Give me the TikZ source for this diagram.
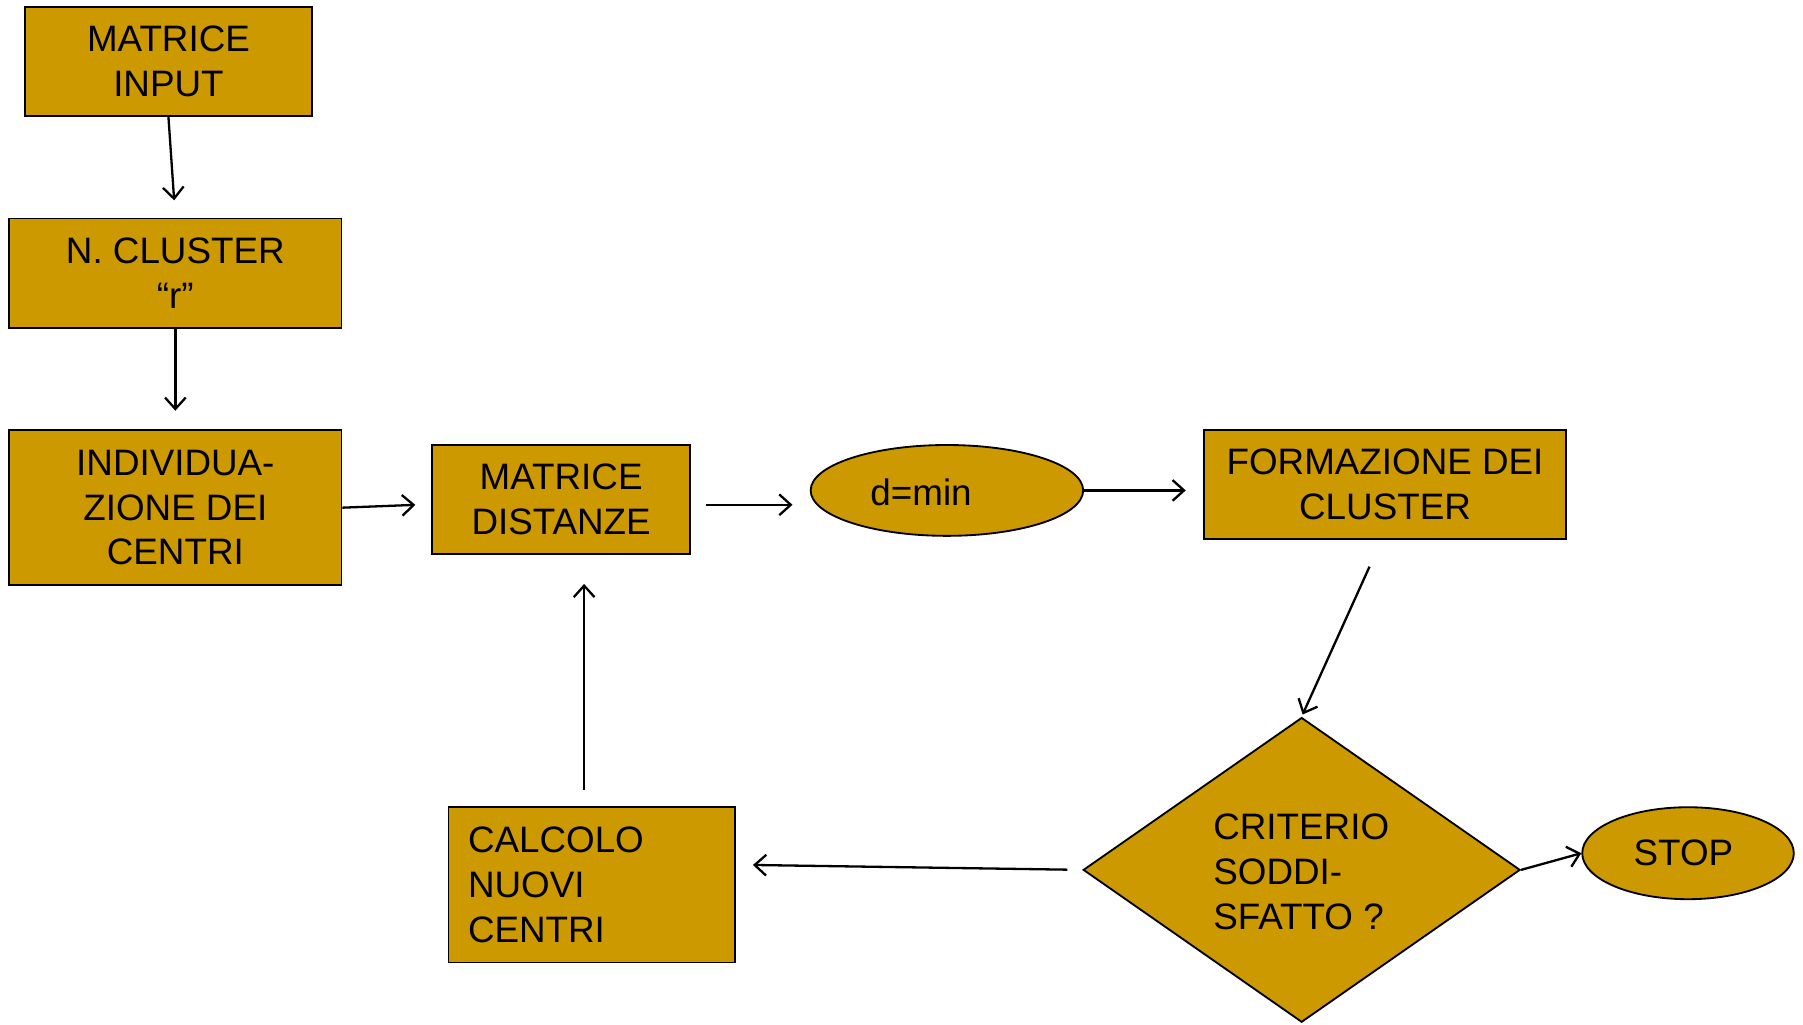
\documentclass[tikz,border=0pt]{standalone}
\usepackage{fontspec}
\setmainfont{Liberation Sans}
\usetikzlibrary{shapes.geometric,arrows.meta,calc}
\definecolor{gold}{RGB}{204,153,0}
\begin{document}
\begin{tikzpicture}[x=1pt,y=-1pt,
  every node/.style={font=\fontsize{32}{39}\selectfont},
  box/.style={draw=black, line width=1.6pt, fill=gold, rectangle, inner sep=0pt, align=center},
  oval/.style={draw=black, line width=1.6pt, fill=gold, ellipse, inner sep=0pt},
  dia/.style={draw=black, line width=1.6pt, fill=gold, diamond, inner sep=0pt},
  arr/.style={draw=black, line width=2pt, -{Straight Barb[length=10pt,width=18pt]}},
  lbl/.style={align=left, inner sep=0pt}]
\useasboundingbox (0,0) rectangle (1568,891);
% nodes
\node[box, minimum width=249pt, minimum height=95pt] (in) at (146.5,53.5) {MATRICE\\INPUT};
\node[box, minimum width=289pt, minimum height=95pt] (ncl) at (152.5,237.5) {N. CLUSTER\\“r”};
\node[box, minimum width=289pt, minimum height=135pt] (ind) at (152.5,441.5) {INDIVIDUA-\\ZIONE DEI\\CENTRI};
\node[box, minimum width=224pt, minimum height=95pt] (mdist) at (488,434.5) {MATRICE\\DISTANZE};
\node[oval, minimum width=237pt, minimum height=79pt] (dmin) at (823.5,426.5) {};
\node[lbl] (dmintext) at (801,428) {d=min};
\node[box, minimum width=315pt, minimum height=95pt] (form) at (1204.5,421.5) {FORMAZIONE DEI\\CLUSTER};
\node[dia, minimum width=380pt, minimum height=265pt] (crit) at (1132,756.5) {};
\node[lbl, anchor=west] (crittext) at (1055,758) {CRITERIO\\SODDI-\\SFATTO ?};
\node[oval, minimum width=184pt, minimum height=80pt] (stop) at (1468,742) {};
\node[lbl] (stoptext) at (1464,742) {STOP};
\node[box, minimum width=249pt, minimum height=135pt, text width=215pt, align=left] (calc) at (514.5,769.5) {CALCOLO\\NUOVI\\CENTRI};
% connectors
\draw[arr, shorten >=15pt] (in.south) -- (ncl.north);
\draw[arr, shorten >=16pt] (ncl.south) -- (ind.north);
\draw[arr, shorten >=14pt] (ind.east) -- ([yshift=-4pt]mdist.west);
\draw[arr, shorten <=13pt, shorten >=15pt] ([yshift=-4.5pt]mdist.east) -- ([yshift=-12.5pt]dmin.west);
\draw[arr, shorten >=15pt] (dmin.east) -- ([yshift=-5pt]form.west);
\draw[arr, shorten >=2pt] ([xshift=-13.5pt,yshift=-23pt]form.south) -- (crit.north);
\draw[arr, shorten <=13pt, shorten >=15pt] (crit.west) -- ([yshift=17.5pt]calc.east);
\draw[arr, shorten <=14pt, shorten >=25pt] ([xshift=-6.5pt]calc.north) -- ([xshift=20pt]mdist.south);
\draw[arr] (crit.east) -- (stop.west);
\end{tikzpicture}
\end{document}
